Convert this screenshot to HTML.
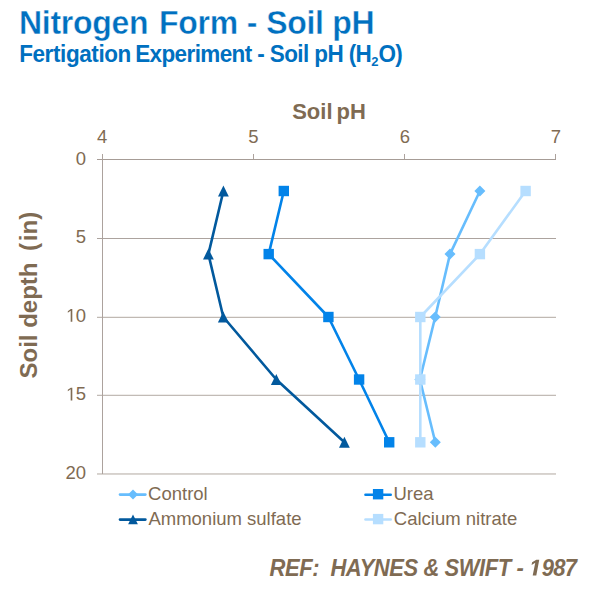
<!DOCTYPE html>
<html><head><meta charset="utf-8">
<style>
html,body{margin:0;padding:0;background:#fff;width:600px;height:589px;overflow:hidden}
svg{position:absolute;left:0;top:0;font-family:"Liberation Sans",sans-serif}
text{white-space:pre}
</style></head><body>
<svg width="600" height="589">
<!-- titles -->
<text transform="translate(0,34) scale(1,1.045)" y="0" font-size="32" font-weight="bold" fill="#0070C0" stroke="#fff" stroke-width="0.4"><tspan x="19.05" letter-spacing="-0.3">Nitrogen</tspan><tspan x="159.1" letter-spacing="-0.3">Form</tspan><tspan x="246.7">-</tspan><tspan x="266.2" letter-spacing="-0.3">Soil pH</tspan></text>
<text transform="translate(0,61.8) scale(1,1.035)" y="0" font-size="22.5" font-weight="bold" fill="#0070C0"><tspan x="19.2" letter-spacing="-0.4">Fertigation</tspan><tspan x="135.2" letter-spacing="-0.6">Experiment - Soil pH (H</tspan><tspan font-size="13" dy="4.2" letter-spacing="0">2</tspan><tspan dy="-4.2" letter-spacing="-0.6">O)</tspan></text>

<!-- axis titles -->
<text transform="translate(0,119) scale(1,1.04)" x="292.17" y="0" font-size="22" font-weight="bold" fill="#7F6B53">Soil <tspan dx="-2">pH</tspan></text>
<text transform="translate(37.2,378.5) rotate(-90)" font-size="24" font-weight="bold" fill="#7F6B53">Soil depth  <tspan dx="-1.8">(</tspan><tspan dx="1.8">in)</tspan></text>

<!-- grid -->
<g shape-rendering="crispEdges">
<rect x="97" y="238" width="459" height="1" fill="#ACA39E"/>
<rect x="97" y="316" width="459" height="1" fill="#F0EEEC"/>
<rect x="97" y="317" width="459" height="1" fill="#C0B9B3"/>
<rect x="97" y="394" width="459" height="1" fill="#EFEDEB"/>
<rect x="97" y="395" width="459" height="1" fill="#C2BBB6"/>
<rect x="97" y="473" width="459" height="1" fill="#D6D1CD"/>
<rect x="97" y="474" width="459" height="1" fill="#DAD6D2"/>
<rect x="97" y="159" width="459" height="1" fill="#A69C96"/>
<rect x="102" y="154" width="1" height="320" fill="#ACA29D"/>
<rect x="253" y="154" width="1" height="5" fill="#ACA29D"/>
<rect x="404" y="154" width="1" height="5" fill="#ACA29D"/>
<rect x="555" y="154" width="1" height="5" fill="#ACA29D"/>
</g>
<g font-size="18.5" fill="#7F6B53" text-anchor="middle">
<text x="102.2" y="143">4</text>
<text x="253.4" y="143">5</text>
<text x="404.8" y="143">6</text>
<text x="555.8" y="143">7</text>
</g>
<g font-size="18.5" fill="#7F6B53" text-anchor="end">
<text x="86" y="164.5">0</text>
<text x="86" y="243.2">5</text>
<text x="86" y="321.8">0</text><use href="#one_r" transform="translate(65.42,321.8) scale(0.009033,-0.009033)"/>
<text x="86" y="400.4">5</text><use href="#one_r" transform="translate(65.42,400.4) scale(0.009033,-0.009033)"/>
<text x="86" y="479">20</text>
</g>

<!-- series -->
<defs>
<path id="one_r" d="M582,0 L582,1237 L264,1010 L264,1180 L597,1409 L763,1409 L763,0 Z"/>
<path id="one_bi" d="M325,0 L565,1135 L223,938 L270,1180 L666,1409 L936,1409 L661,0 Z"/>
<path id="dia" d="M0,-5.5 L5.5,0 L0,5.5 L-5.5,0Z"/>
<rect id="sq" x="-5.2" y="-5.2" width="10.4" height="10.4"/>
<path id="tri" d="M0,-5.6 L5.4,5.5 L-5.4,5.5Z"/>
</defs>
<g stroke-width="2.6" fill="none" stroke-linejoin="round" stroke-linecap="round">
<polyline stroke="#67BDFD" points="479.9,191 450.0,254.1 435.2,317 419.9,379.5 435.3,442.3"/>
<polyline stroke="#0283E9" points="283.8,191 268.7,254.1 328.4,317 359.1,379.5 389.2,442.3"/>
<polyline stroke="#02599D" points="223.4,191 208.4,254.1 223.3,317 276.3,379.5 344.4,442.3"/>
<polyline stroke="#B6DEFF" points="525.6,191 480.0,254.1 420.3,317 420.3,379.5 420.3,442.3"/>
</g>
<g fill="#67BDFD"><use href="#dia" x="479.9" y="191"/><use href="#dia" x="450.0" y="254.1"/><use href="#dia" x="435.2" y="317"/><use href="#dia" x="419.9" y="379.5"/><use href="#dia" x="435.3" y="442.3"/></g>
<g fill="#0283E9"><use href="#sq" x="283.8" y="191"/><use href="#sq" x="268.7" y="254.1"/><use href="#sq" x="328.4" y="317"/><use href="#sq" x="359.1" y="379.5"/><use href="#sq" x="389.2" y="442.3"/></g>
<g fill="#02599D"><use href="#tri" x="223.4" y="191"/><use href="#tri" x="208.4" y="254.1"/><use href="#tri" x="223.3" y="317"/><use href="#tri" x="276.3" y="379.5"/><use href="#tri" x="344.4" y="442.3"/></g>
<g fill="#B6DEFF"><use href="#sq" x="525.6" y="191"/><use href="#sq" x="479.9" y="254.1"/><use href="#sq" x="420.3" y="317"/><use href="#sq" x="420.3" y="379.5"/><use href="#sq" x="420.3" y="442.3"/></g>

<!-- legend -->
<g stroke-width="2.6" stroke-linecap="round">
<line x1="120" y1="494.6" x2="145.4" y2="494.6" stroke="#67BDFD"/>
<line x1="365.5" y1="494.7" x2="390.7" y2="494.7" stroke="#0283E9"/>
<line x1="120" y1="519.6" x2="145.4" y2="519.6" stroke="#02599D"/>
<line x1="365.5" y1="519.5" x2="390.7" y2="519.5" stroke="#B6DEFF"/>
</g>
<path d="M133,489.5 L138,494.5 L133,499.5 L128,494.5Z" fill="#67BDFD"/>
<use href="#sq" x="378.1" y="494.2" fill="#0283E9"/>
<path d="M133,514.6 L137.9,524.3 L128.1,524.3Z" fill="#02599D"/>
<use href="#sq" x="378.1" y="519.1" fill="#B6DEFF"/>
<g font-size="18.5" fill="#7F6B53">
<text x="148.1" y="500.3">Control</text>
<text x="393.5" y="500.3">Urea</text>
<text x="148.4" y="524.7">Ammonium sulfate</text>
<text x="393.8" y="524.7">Calcium nitrate</text>
</g>
<g transform="translate(0,575.6) scale(1,1.05)" fill="#7F6B53"><text x="269.6" y="0" font-size="22" letter-spacing="-0.45" font-weight="bold" font-style="italic">REF:  HAYNES &amp; SWIFT<tspan x="516.6">-</tspan><tspan x="541.8" letter-spacing="-0.8">987</tspan></text>
<use href="#one_bi" transform="translate(529.2,0) scale(0.010742,-0.010742)"/></g>
</svg>
</body></html>
